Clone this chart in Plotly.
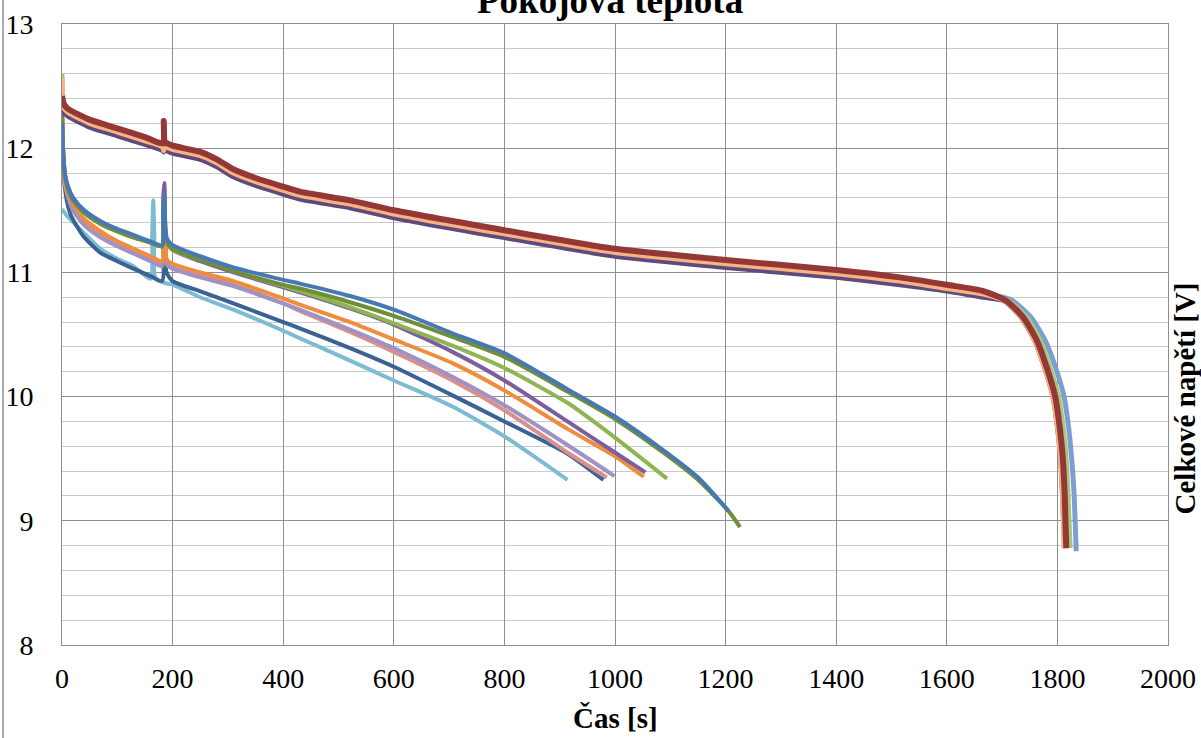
import plotly.graph_objects as go

# ---------------- data ----------------
# Lower group of discharge curves (time [s], total voltage [V])
blue_x = [0, 2, 5, 10, 20, 40, 70, 100, 130, 160, 181, 183, 185, 187, 190, 200, 250, 310, 400, 430, 521, 600, 706, 800, 914, 1000, 1087, 1150, 1205]
blue_y = [12.2, 11.95, 11.8, 11.7, 11.6, 11.5, 11.41, 11.35, 11.3, 11.25, 11.22, 11.5, 11.62, 11.35, 11.27, 11.22, 11.13, 11.04, 10.94, 10.91, 10.81, 10.7, 10.51, 10.35, 10.06, 9.84, 9.57, 9.35, 9.08]

olive_x = [0, 2, 5, 10, 20, 40, 70, 100, 130, 160, 181, 183, 185, 187, 190, 200, 250, 310, 400, 430, 521, 600, 706, 800, 914, 1000, 1087, 1150, 1205, 1226]
olive_y = [12.25, 11.95, 11.78, 11.68, 11.58, 11.48, 11.39, 11.33, 11.28, 11.24, 11.21, 11.5, 11.6, 11.32, 11.24, 11.19, 11.1, 11.01, 10.9, 10.87, 10.76, 10.65, 10.48, 10.32, 10.04, 9.82, 9.55, 9.33, 9.08, 8.95]

green_x = [0, 2, 5, 10, 20, 40, 70, 100, 130, 160, 181, 183, 185, 187, 190, 200, 250, 310, 400, 430, 521, 600, 706, 800, 914, 1000, 1094]
green_y = [12.25, 11.95, 11.78, 11.68, 11.58, 11.48, 11.39, 11.33, 11.28, 11.24, 11.21, 11.5, 11.62, 11.32, 11.24, 11.18, 11.1, 11.01, 10.89, 10.85, 10.72, 10.59, 10.41, 10.23, 9.95, 9.67, 9.34]

purple_x = [0, 2, 5, 10, 20, 40, 70, 100, 130, 160, 181, 183, 185, 187, 190, 200, 250, 310, 400, 430, 521, 600, 706, 800, 914, 1000, 1055]
purple_y = [12.35, 12.0, 11.8, 11.7, 11.6, 11.5, 11.41, 11.34, 11.29, 11.24, 11.21, 11.6, 11.72, 11.35, 11.25, 11.18, 11.09, 11.0, 10.88, 10.84, 10.71, 10.58, 10.36, 10.13, 9.8, 9.55, 9.39]

orange_x = [0, 2, 5, 10, 20, 40, 70, 100, 130, 160, 181, 183, 185, 187, 190, 200, 250, 310, 400, 430, 521, 600, 706, 800, 914, 1000, 1052]
orange_y = [12.3, 11.95, 11.75, 11.65, 11.55, 11.43, 11.33, 11.25, 11.19, 11.13, 11.09, 11.4, 11.62, 11.2, 11.1, 11.07, 11.0, 10.93, 10.79, 10.74, 10.6, 10.46, 10.27, 10.05, 9.74, 9.52, 9.355]

pink_x = [0, 2, 5, 10, 20, 40, 70, 100, 130, 160, 181, 183, 185, 187, 190, 200, 250, 310, 400, 430, 521, 600, 706, 800, 914, 985]
pink_y = [12.3, 11.92, 11.72, 11.62, 11.52, 11.4, 11.3, 11.23, 11.17, 11.11, 11.07, 11.45, 11.69, 11.2, 11.08, 11.05, 10.98, 10.9, 10.75, 10.69, 10.52, 10.36, 10.13, 9.89, 9.55, 9.35]

lilac_x = [0, 2, 5, 10, 20, 40, 70, 100, 130, 160, 181, 183, 185, 187, 190, 200, 250, 310, 400, 430, 521, 600, 706, 800, 914, 999]
lilac_y = [12.4, 12.0, 11.8, 11.62, 11.5, 11.38, 11.28, 11.21, 11.15, 11.09, 11.05, 11.4, 11.65, 11.18, 11.06, 11.03, 10.96, 10.89, 10.75, 10.7, 10.54, 10.39, 10.16, 9.93, 9.61, 9.36]

navy_x = [0, 2, 5, 10, 17, 39, 69, 100, 129, 160, 181, 183, 185, 187, 189, 200, 249, 310, 400, 430, 521, 600, 706, 800, 914, 979]
navy_y = [12.03, 11.85, 11.69, 11.55, 11.45, 11.29, 11.16, 11.09, 11.03, 10.97, 10.93, 11.3, 11.6, 11.2, 11.0, 10.93, 10.85, 10.75, 10.6, 10.55, 10.39, 10.24, 10.01, 9.8, 9.54, 9.33]

cyan_x = [0, 10, 39, 69, 100, 129, 160, 163, 165, 167, 169, 190, 201, 250, 310, 400, 430, 521, 600, 706, 800, 914]
cyan_y = [11.51, 11.45, 11.32, 11.19, 11.11, 11.05, 10.95, 11.3, 11.58, 11.3, 10.95, 10.91, 10.9, 10.8, 10.7, 10.53, 10.47, 10.29, 10.13, 9.92, 9.68, 9.33]

# Upper group of discharge curves
flat_x = [0, 3, 10, 50, 100, 150, 182, 184, 186, 190, 200, 250, 280, 310, 350, 400, 430, 521, 600, 800, 1000, 1200, 1400, 1515, 1600, 1666]
drop_y = [10.77, 10.64, 10.45, 10.23, 10.0, 9.76, 9.49, 9.23, 8.78]

red_y_flat = [12.42, 12.36, 12.32, 12.23, 12.16, 12.09, 12.04, 12.22, 12.04, 12.04, 12.02, 11.97, 11.91, 11.83, 11.76, 11.69, 11.65, 11.58, 11.5, 11.34, 11.19, 11.1, 11.02, 10.96, 10.9, 10.85]
orange2_y_flat = [12.57, 12.33, 12.29, 12.2, 12.13, 12.06, 12.01, 11.98, 12.03, 12.01, 11.99, 11.94, 11.88, 11.8, 11.73, 11.66, 11.62, 11.55, 11.47, 11.31, 11.16, 11.07, 10.99, 10.93, 10.87, 10.825]
violet_y_flat = [12.35, 12.3, 12.26, 12.17, 12.1, 12.03, 11.98, 11.97, 11.99, 11.98, 11.96, 11.91, 11.85, 11.77, 11.7, 11.63, 11.59, 11.52, 11.44, 11.28, 11.13, 11.04, 10.96, 10.9, 10.85, 10.8]
lightgreen_y_flat = [12.6, 12.34, 12.29, 12.2, 12.13, 12.06, 12.01, 11.99, 12.02, 12.01, 11.99, 11.94, 11.88, 11.8, 11.73, 11.66, 11.62, 11.55, 11.47, 11.31, 11.16, 11.07, 10.99, 10.93, 10.87, 10.83]
teal_y_flat = [12.4, 12.32, 12.28, 12.19, 12.12, 12.05, 12.0, 11.98, 12.01, 12.0, 11.98, 11.93, 11.87, 11.79, 11.72, 11.65, 11.61, 11.54, 11.46, 11.3, 11.15, 11.06, 10.98, 10.92, 10.86, 10.82]
lightblue_y_flat = [12.4, 12.33, 12.29, 12.2, 12.13, 12.06, 12.01, 11.99, 12.02, 12.01, 11.99, 11.94, 11.88, 11.8, 11.73, 11.66, 11.62, 11.55, 11.47, 11.31, 11.16, 11.07, 10.99, 10.93, 10.87, 10.83]

red_drop_x = [1708, 1738, 1763, 1781, 1796, 1804, 1810, 1813, 1816]
orange2_drop_x = [1704, 1734, 1759, 1777, 1792, 1800, 1806, 1809, 1812]
violet_drop_x = [1704, 1734, 1759, 1777, 1792, 1800, 1806, 1809, 1813]
lightgreen_drop_x = [1712, 1744, 1769, 1787, 1802, 1810, 1816, 1819, 1823]
teal_drop_x = [1708, 1738, 1763, 1781, 1796, 1804, 1810, 1813, 1817]
lightblue_drop_x = [1716, 1752, 1778, 1797, 1812, 1820, 1826, 1830, 1834]
lightblue_drop_y = [10.78, 10.64, 10.45, 10.23, 10.0, 9.76, 9.49, 9.23, 8.755]

x_ticks = [0, 200, 400, 600, 800, 1000, 1200, 1400, 1600, 1800, 2000]
y_ticks = [8, 9, 10, 11, 12, 13]

TITLE = "Pokojová teplota"
X_TITLE = "Čas [s]"
Y_TITLE = "Celkové napětí [V]"

# ---------------- figure ----------------
fig = go.Figure()

lower = [
    (cyan_x, cyan_y, "#7DBBD3", 4),
    (navy_x, navy_y, "#3A6294", 4),
    (pink_x, pink_y, "#D98F8C", 4),
    (lilac_x, lilac_y, "#A093C2", 4),
    (orange_x, orange_y, "#F08C3E", 4),
    (purple_x, purple_y, "#7B5E9E", 4),
    (green_x, green_y, "#8FB552", 4),
    (olive_x, olive_y, "#6F8E3A", 4),
    (blue_x, blue_y, "#4878B4", 4),
]
for xs, ys, c, w in lower:
    fig.add_trace(go.Scatter(x=xs, y=ys, mode="lines",
                             line=dict(color=c, width=w, shape="spline", smoothing=0.6),
                             showlegend=False, hoverinfo="skip"))

upper = [
    (flat_x + lightblue_drop_x, lightblue_y_flat + lightblue_drop_y, "#7C9FD2", 5),
    (flat_x + lightgreen_drop_x, lightgreen_y_flat + drop_y, "#A9C67F", 5),
    (flat_x + teal_drop_x, teal_y_flat + drop_y, "#4BACC6", 4),
    (flat_x + violet_drop_x, violet_y_flat + drop_y, "#5F4A7D", 5),
    (flat_x + orange2_drop_x, orange2_y_flat + drop_y, "#F9B382", 5),
    (flat_x + red_drop_x, red_y_flat + drop_y, "#943836", 6),
]
for xs, ys, c, w in upper:
    fig.add_trace(go.Scatter(x=xs, y=ys, mode="lines",
                             line=dict(color=c, width=w, shape="spline", smoothing=0.6),
                             showlegend=False, hoverinfo="skip"))

FONT = "Liberation Serif, Times New Roman, serif"
GRID_MAJOR = "#8E8E8E"
GRID_MINOR = "#CACACA"

fig.update_layout(
    width=1201, height=738,
    margin=dict(l=62, r=33, t=24, b=93, autoexpand=False),
    paper_bgcolor="white", plot_bgcolor="white",
    font=dict(family=FONT, color="black", size=28),
    title=dict(text="<b>" + TITLE + "</b>", font=dict(family=FONT, size=37, color="black"),
               x=0.508, xanchor="center", yref="container", y=1.0, yanchor="middle",
               automargin=False),
    xaxis=dict(range=[0, 2000], tickvals=x_ticks, ticktext=[str(v) for v in x_ticks],
               showgrid=True, gridcolor=GRID_MAJOR, gridwidth=1,
               showline=True, linecolor=GRID_MAJOR, linewidth=1, mirror=True,
               zeroline=False, ticks="", ticklabelstandoff=8, automargin=False,
               tickfont=dict(family=FONT, size=28, color="black")),
    yaxis=dict(range=[8, 13], tickvals=y_ticks, ticktext=[str(v) for v in y_ticks],
               showgrid=True, gridcolor=GRID_MAJOR, gridwidth=1,
               minor=dict(dtick=0.2, showgrid=True, gridcolor=GRID_MINOR, gridwidth=1),
               showline=True, linecolor=GRID_MAJOR, linewidth=1, mirror=True,
               zeroline=False, ticks="", ticklabelstandoff=22, automargin=False,
               tickfont=dict(family=FONT, size=28, color="black")),
)

fig.add_annotation(text="<b>" + X_TITLE + "</b>", xref="paper", yref="paper",
                   x=0.5, y=-0.1175, xanchor="center", yanchor="middle", showarrow=False,
                   font=dict(family=FONT, size=29, color="black"))
fig.add_annotation(text="<b>" + Y_TITLE + "</b>", xref="paper", yref="paper",
                   x=1.0154, y=0.397, xanchor="center", yanchor="middle", showarrow=False,
                   textangle=-90, font=dict(family=FONT, size=29, color="black"))

# outer chart-area border (left edge visible in the reference)
fig.add_shape(type="line", xref="paper", yref="paper",
              x0=-0.0533, x1=-0.0533, y0=-0.2, y1=1.1,
              line=dict(color="#8E8E8E", width=1.5))

fig.write_html("out.html", config={"displayModeBar": False},
               post_script="document.body.style.margin='0';document.body.style.overflow='hidden';")
